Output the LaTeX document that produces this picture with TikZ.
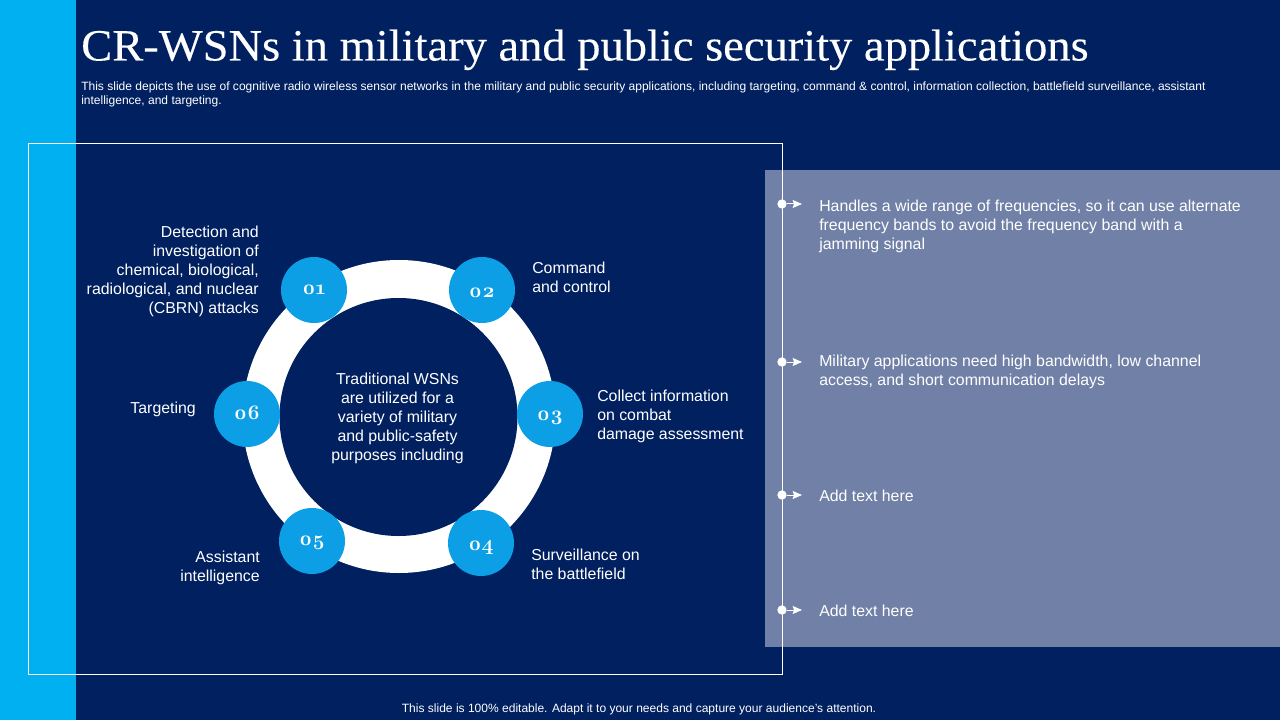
\documentclass[tikz,border=0pt]{standalone}
\usepackage{fontspec}
\setmainfont{Liberation Sans}
\newfontfamily\titlefont[FakeStretch=1.041,FakeBold=0.25]{Liberation Serif}
\newfontfamily\numfont[Numbers=OldStyle,BoldFont={Latin Modern Roman/B}]{Latin Modern Roman}
\usetikzlibrary{arrows.meta}
\definecolor{navybg}{HTML}{002060}
\definecolor{barblue}{HTML}{00B0F0}
\definecolor{numblue}{HTML}{0C9FE6}
\definecolor{panelblue}{HTML}{7080A6}
\tikzstyle{numvertex}=[circle,fill=numblue,minimum size=66pt*0.75,inner sep=0pt,text=white,font=\numfont\bfseries\fontsize{15.5}{15.5}\selectfont]
\tikzstyle{bodytext}=[text=white,inner sep=0pt,font=\fontsize{11.9}{14.25}\selectfont]
\tikzstyle{smalltext}=[text=white,inner sep=0pt,font=\fontsize{9.02}{10.6}\selectfont]
\tikzstyle{bulletdot}=[circle,fill=white,minimum size=7pt,inner sep=0pt]
\tikzstyle{bulletarrow}=[draw=white,line width=0.75pt,-{Stealth[length=7pt,width=6pt,inset=1pt]}]

\begin{document}
\begin{tikzpicture}[x=0.75pt,y=-0.75pt]

    \useasboundingbox (0,0) rectangle (1280,720);
    \fill[navybg] (0,0) rectangle (1280,720);
    \fill[barblue] (0,0) rectangle (76,720);
    \fill[panelblue] (765,170) rectangle (1280,647);
    \draw[white,line width=0.75pt] (28.5,143.5) rectangle (782.5,674.5);

    \node[text=white,inner sep=0pt,anchor=base west,font=\titlefont\fontsize{33.5}{36}\selectfont] (title) at (81,60.5) {CR-WSNs in military and public security applications};
    \node[smalltext,anchor=north west,align=left] (subtitle) at (81,81.5) {This slide depicts the use of cognitive radio wireless sensor networks in the military and public security applications, including targeting, command \& control, information collection, battlefield surveillance, assistant\\intelligence, and targeting.};
    \node[smalltext] (footer) at (639,709) {This slide is 100\% editable. Adapt it to your needs and capture your audience's attention.};

    % ring
    \fill[white] (399,416.5) circle [radius=156.5*0.75pt];
    \fill[navybg] (398.5,417) circle [radius=119*0.75pt];

    \foreach \pos/\name/\label/\drop in {{(314,290)/one/01/3.5}, {(482,290)/two/02/5.75}, {(550,414)/three/03/4.8}, {(481,543)/four/04/5.4}, {(312,541)/five/05/3.5}, {(247,414)/six/06/4.25}}
        \node[numvertex] (\name) at \pos {\raisebox{-\drop pt}[0pt][0pt]{\label}};

    \node[bodytext,align=center] (centre) at (397.5,418) {Traditional WSNs\\are utilized for a\\variety of military\\and public-safety\\purposes including};

    \node[bodytext,anchor=east,align=right] (cbrn) at (259,271.5) {Detection and\\investigation of\\chemical, biological,\\radiological, and nuclear\\(CBRN) attacks};
    \node[bodytext,anchor=west,align=left] (command) at (532,277) {Command\\and control};
    \node[bodytext,anchor=west,align=left] (collect) at (597,416.5) {Collect information\\on combat\\damage assessment};
    \node[bodytext,anchor=west,align=left] (surveil) at (531,564) {Surveillance on\\the battlefield};
    \node[bodytext,anchor=east,align=right] (assist) at (260,568) {Assistant\\intelligence};
    \node[bodytext,anchor=east] (target) at (196,409) {Targeting};

    \foreach \y/\name in {204/a, 362/b, 495/c, 610/d} {
        \node[bulletdot] (dot\name) at (782,\y) {};
        \coordinate (tip\name) at (802,\y);
        \path[bulletarrow] (dot\name) -- (tip\name);
    }

    \node[bodytext,anchor=west,align=left] (texta) at (819,226) {Handles a wide range of frequencies, so it can use alternate\\frequency bands to avoid the frequency band with a\\jamming signal};
    \node[bodytext,anchor=west,align=left] (textb) at (819,372) {Military applications need high bandwidth, low channel\\access, and short communication delays};
    \node[bodytext,anchor=west] (textc) at (819,496) {Add text here};
    \node[bodytext,anchor=west] (textd) at (819,611) {Add text here};

\end{tikzpicture}
\end{document}
